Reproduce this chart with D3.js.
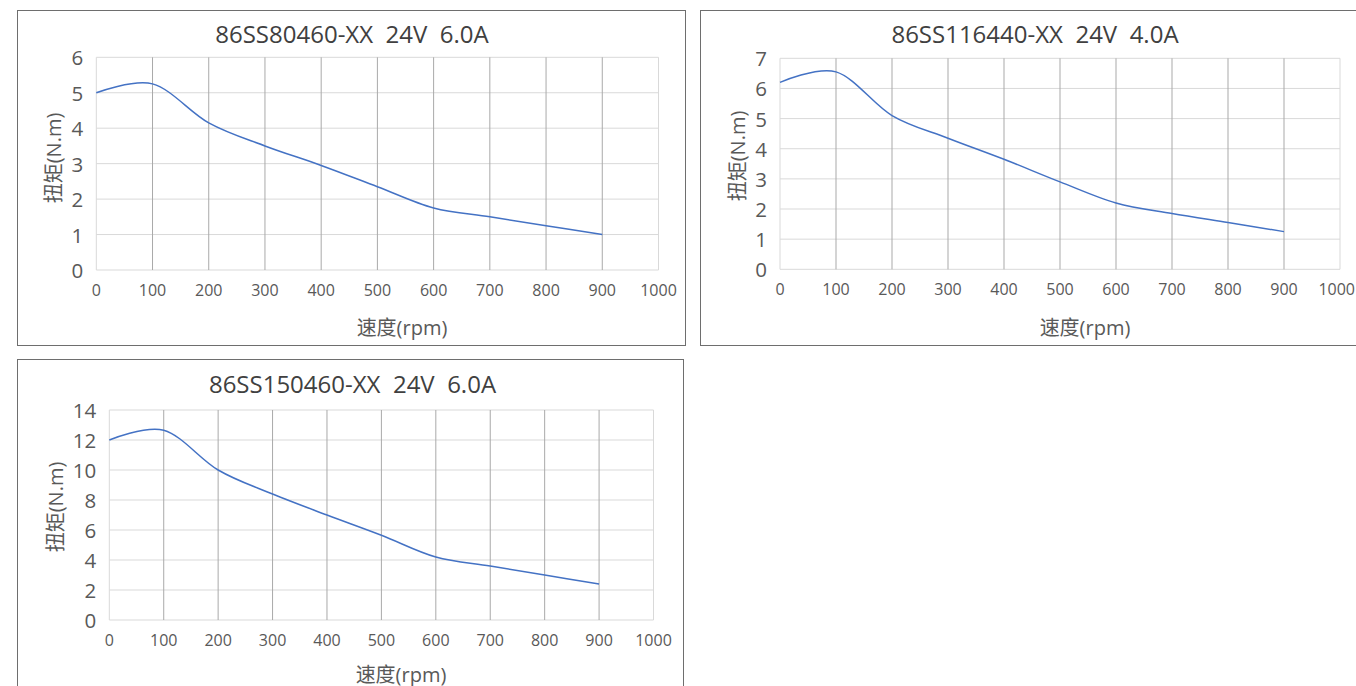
<!DOCTYPE html>
<html>
<head>
<meta charset="utf-8">
<script src="https://cdn.jsdelivr.net/npm/d3@7"></script>
<style>
  html, body { margin: 0; padding: 0; background: #fff; }
  svg { display: block; }
  text { font-family: "Open Sans", "Noto Sans CJK SC", sans-serif; }
</style>
</head>
<body>
<svg id="chart" width="1356" height="686"></svg>
<script>
// ---- Data ----
const speeds = [0, 100, 200, 300, 400, 500, 600, 700, 800, 900];
const xTickValues = [0, 100, 200, 300, 400, 500, 600, 700, 800, 900, 1000];

const titleA = "86SS80460-XX  24V  6.0A";
const torqueA = [5.0, 5.25, 4.15, 3.5, 2.95, 2.35, 1.75, 1.5, 1.25, 1.0];
const yTicksA = [0, 1, 2, 3, 4, 5, 6];

const titleB = "86SS116440-XX  24V  4.0A";
const torqueB = [6.2, 6.55, 5.1, 4.35, 3.65, 2.9, 2.2, 1.85, 1.55, 1.25];
const yTicksB = [0, 1, 2, 3, 4, 5, 6, 7];

const titleC = "86SS150460-XX  24V  6.0A";
const torqueC = [12.0, 12.65, 10.0, 8.4, 7.0, 5.65, 4.2, 3.6, 3.0, 2.4];
const yTicksC = [0, 2, 4, 6, 8, 10, 12, 14];

const xAxisTitle = "速度(rpm)";
const yAxisTitle = "扭矩(N.m)";

// ---- Layout ----
const W = 1356;
const charts = [
  { title: titleA, values: torqueA, yTicks: yTicksA,
    box: [17.5, 10.5, 685.5, 345.5],
    plot: { left: 96.3, right: 658.5, top: 57.3, bottom: 270 },
    titlePos: [352, 43], xTitlePos: [402, 327], yTitlePos: [53, 158] },
  { title: titleB, values: torqueB, yTicks: yTicksB,
    box: [700.5, 10.5, 1372, 345.5],
    plot: { left: 780, right: 1340, top: 58.3, bottom: 269.3 },
    titlePos: [1035, 43], xTitlePos: [1085, 327], yTitlePos: [737, 156] },
  { title: titleC, values: torqueC, yTicks: yTicksC,
    box: [17.5, 359.5, 683.5, 700],
    plot: { left: 109.3, right: 653.5, top: 410, bottom: 620 },
    titlePos: [352.5, 392.5], xTitlePos: [401, 674], yTitlePos: [55, 507] }
];

const svg = d3.select("#chart");

charts.forEach(c => {
  const g = svg.append("g");
  const [bx0, by0, bx1, by1] = c.box;
  g.append("rect")
    .attr("x", bx0).attr("y", by0)
    .attr("width", bx1 - bx0).attr("height", by1 - by0)
    .attr("fill", "#fff").attr("stroke", "#6e6e6e").attr("stroke-width", 1);

  const p = c.plot;
  const x = d3.scaleLinear().domain([0, 1000]).range([p.left, p.right]);
  const y = d3.scaleLinear().domain([0, d3.max(c.yTicks)]).range([p.bottom, p.top]);

  // horizontal gridlines
  g.append("g").selectAll("line").data(c.yTicks).join("line")
    .attr("x1", p.left).attr("x2", p.right)
    .attr("y1", d => y(d)).attr("y2", d => y(d))
    .attr("stroke", "#d9d9d9").attr("stroke-width", 1);

  // vertical gridlines
  g.append("g").selectAll("line").data(xTickValues).join("line")
    .attr("x1", d => x(d)).attr("x2", d => x(d))
    .attr("y1", p.top).attr("y2", p.bottom)
    .attr("stroke", d => (d === 0 || d === 1000) ? "#d9d9d9" : "#a9a9a9")
    .attr("stroke-width", 1);

  // y tick labels
  g.append("g").selectAll("text").data(c.yTicks).join("text")
    .attr("x", p.left - 13).attr("y", d => y(d))
    .attr("text-anchor", "end").attr("dominant-baseline", "central")
    .attr("font-size", 20.5).attr("fill", "#595959")
    .text(d => d);

  // x tick labels (kept inside the page)
  g.append("g").selectAll("text").data(xTickValues).join("text")
    .attr("x", d => x(d)).attr("y", p.bottom + 20)
    .attr("text-anchor", "middle").attr("dominant-baseline", "central")
    .attr("font-size", 16).attr("fill", "#595959")
    .text(d => d)
    .each(function() {
      const bb = this.getBBox();
      if (bb.x + bb.width > W - 1) {
        d3.select(this).attr("text-anchor", "end").attr("x", W - 1);
      }
    });

  // line
  const line = d3.line()
    .x((d, i) => x(speeds[i]))
    .y(d => y(d))
    .curve(d3.curveCardinal.tension(0));
  g.append("path").datum(c.values)
    .attr("d", line)
    .attr("fill", "none").attr("stroke", "#4472c4").attr("stroke-width", 1.5);

  // title
  g.append("text")
    .attr("x", c.titlePos[0]).attr("y", c.titlePos[1])
    .attr("text-anchor", "middle")
    .attr("font-size", 24).attr("fill", "#404040")
    .attr("xml:space", "preserve")
    .style("white-space", "pre")
    .text(c.title);

  // x axis title
  g.append("text")
    .attr("x", c.xTitlePos[0]).attr("y", c.xTitlePos[1])
    .attr("text-anchor", "middle").attr("dominant-baseline", "central")
    .attr("font-size", 20).attr("fill", "#595959")
    .text(xAxisTitle);

  // y axis title
  g.append("text")
    .attr("transform", `translate(${c.yTitlePos[0]},${c.yTitlePos[1]}) rotate(-90)`)
    .attr("text-anchor", "middle").attr("dominant-baseline", "central")
    .attr("font-size", 20).attr("fill", "#595959")
    .text(yAxisTitle);
});
</script>
</body>
</html>
